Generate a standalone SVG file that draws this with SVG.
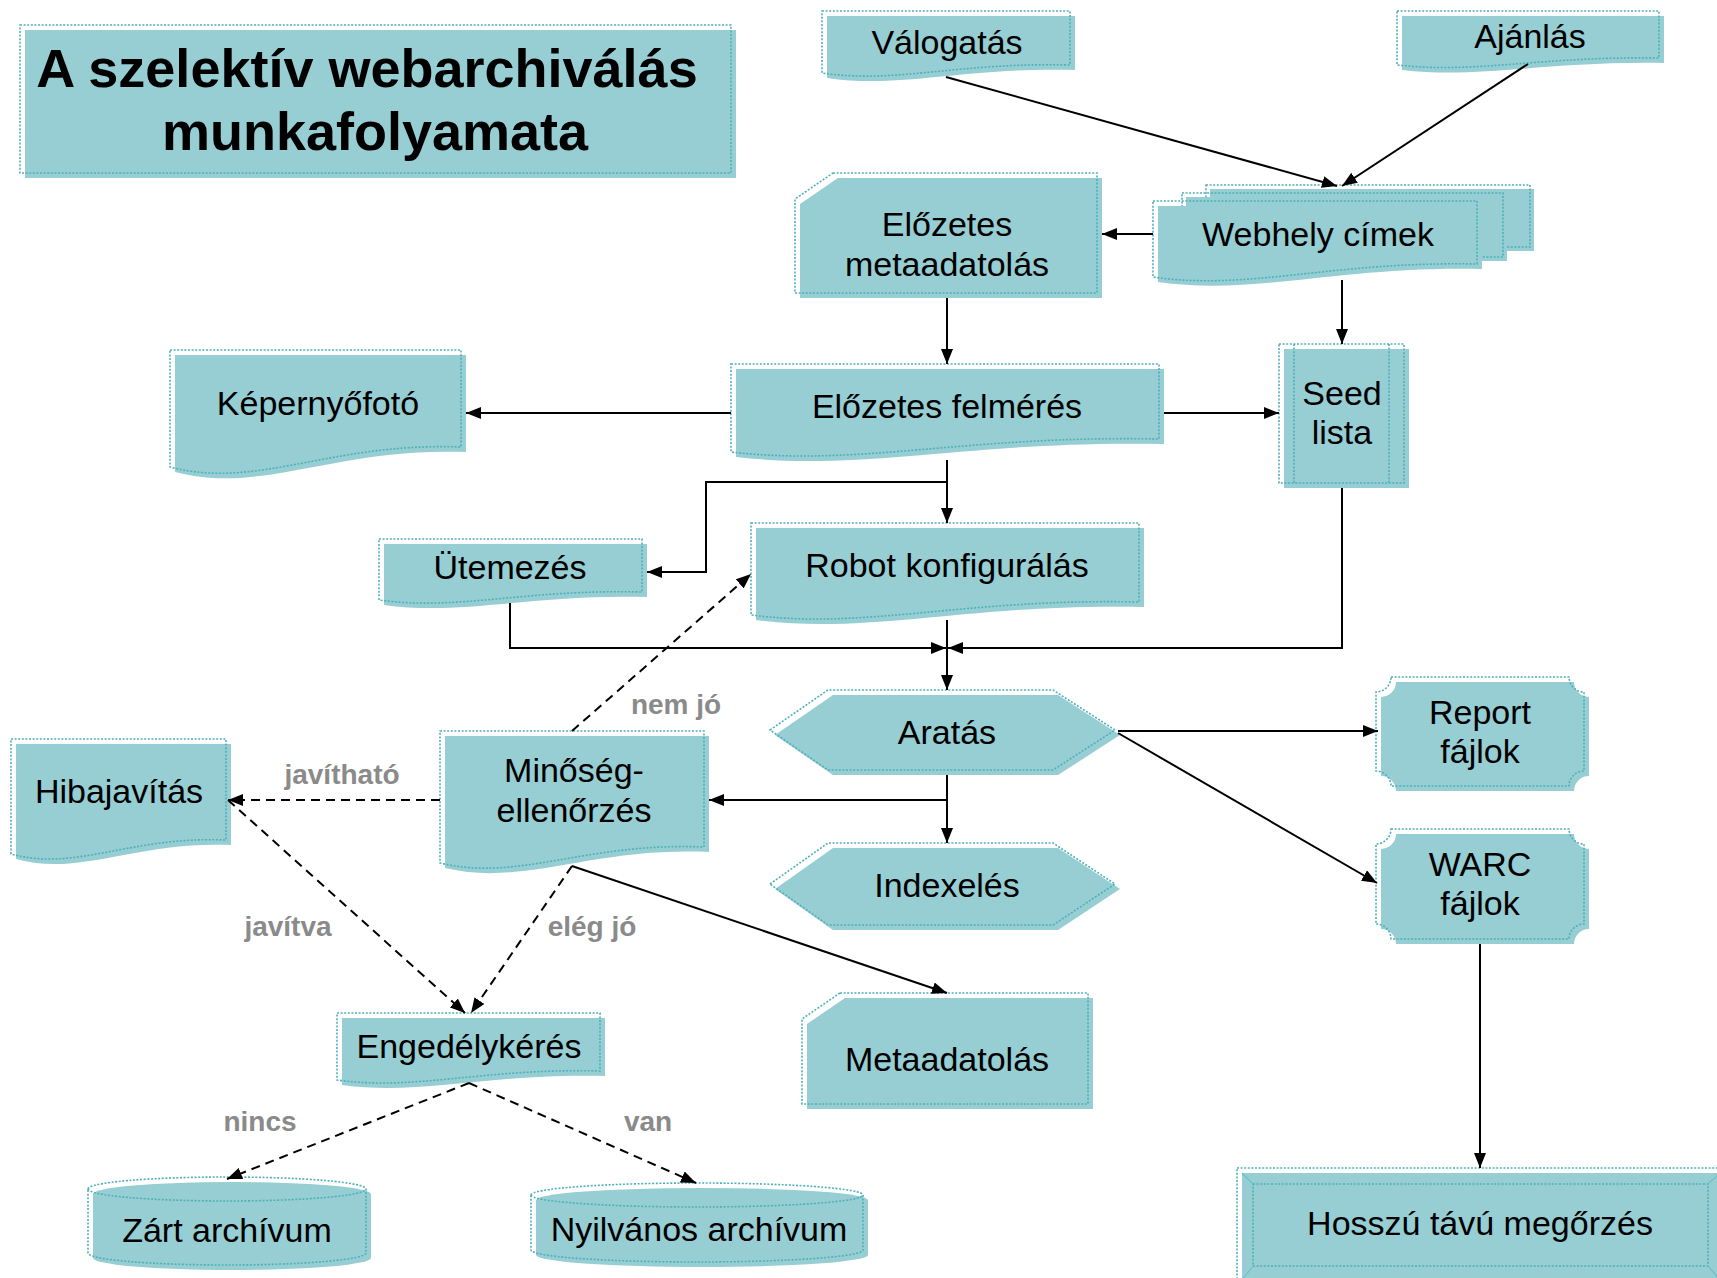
<svg xmlns="http://www.w3.org/2000/svg" xmlns:xlink="http://www.w3.org/1999/xlink" width="1717" height="1278" viewBox="0 0 1717 1278">
<style>
.f{fill:#96CED3;stroke:none}
.o{fill:none;stroke:#4FB0B9;stroke-width:1.6;stroke-dasharray:2 1.6}
.t{font-family:"Liberation Sans",Arial,sans-serif;font-size:34px;fill:#000;text-anchor:middle}
.tt{font-family:"Liberation Sans",Arial,sans-serif;font-size:54px;font-weight:bold;fill:#000;text-anchor:middle}
.lbl{font-family:"Liberation Sans",Arial,sans-serif;font-size:28px;font-weight:bold;fill:#8A8A8A;text-anchor:middle}
.c{fill:none;stroke:#000;stroke-width:2;marker-end:url(#ah)}
.d{stroke-dasharray:9 6}
.bv{stroke:#6FC0C6;stroke-width:1.2}
</style>
<defs>
<marker id="ah" markerUnits="userSpaceOnUse" markerWidth="16" markerHeight="12" refX="15" refY="6" orient="auto">
<path d="M0,0 L15,6 L0,12 Z" fill="#000"/>
</marker>
<path id="p-valogatas" d="M822,11 H1070 V65 C958,62 896,84 822,73 Z"/>
<path id="p-ajanlas" d="M1397,11 H1659 V58 C1541,56 1476,74 1397,65 Z"/>
<path id="p-web3" d="M1206,185 H1530 V247 H1206 Z"/>
<path id="p-web2" d="M1182,193 H1503 V257 H1182 Z"/>
<path id="p-web1" d="M1153,201 H1477 V264 C1331,261 1250,291 1153,277 Z"/>
<path id="p-elometa" d="M833,173 H1097 V293 H795 V199 Z"/>
<path id="p-kepernyo" d="M170,350 H461 V447 C330,442 257,490 170,467 Z"/>
<path id="p-felmeres" d="M731,364 H1159 V439 C966,435 859,467 731,452 Z"/>
<path id="p-seed" d="M1279,344 H1404 V483 H1279 Z"/>
<path id="p-utemezes" d="M379,539 H642 V592 C524,589 458,611 379,600 Z"/>
<path id="p-robot" d="M751,523 H1139 V602 C964,598 867,630 751,615 Z"/>
<path id="p-aratas" d="M770,730 L828,690 L1053,690 L1115,730 L1053,770 L828,770 Z"/>
<path id="p-index" d="M770,884 L828,843 L1053,843 L1115,884 L1053,925 L828,925 Z"/>
<path id="p-report" d="M1391,677 H1569 A15,15 0 0 0 1584,692 V771 A15,15 0 0 0 1569,786 H1391 A15,15 0 0 0 1376,771 V692 A15,15 0 0 0 1391,677 Z"/>
<path id="p-warc" d="M1391,829 H1569 A15,15 0 0 0 1584,844 V924 A15,15 0 0 0 1569,939 H1391 A15,15 0 0 0 1376,924 V844 A15,15 0 0 0 1391,829 Z"/>
<path id="p-hiba" d="M11,739 H226 V840 C129,836 76,872 11,854 Z"/>
<path id="p-minoseg" d="M440,731 H704 V847 C585,842 519,882 440,863 Z"/>
<path id="p-engedely" d="M337,1013 H600 V1071 C482,1068 416,1091 337,1080 Z"/>
<path id="p-meta" d="M840,993 H1088 V1104 H802 V1019 Z"/>
<path id="p-zart" d="M88,1189 A139,12 0 0 1 366,1189 V1253 A139,12 0 0 1 88,1253 Z"/>
<path id="p-nyilv" d="M531,1195 A166,12 0 0 1 863,1195 V1250 A166,12 0 0 1 531,1250 Z"/>
</defs>
<rect width="1717" height="1278" fill="#fff"/>

<g id="title">
<rect class="f" x="25" y="30" width="711" height="148"/>
<rect class="o" x="20" y="25" width="711" height="148"/>
<text class="tt" x="367" y="87">A szelektív webarchiválás</text>
<text class="tt" x="375" y="150">munkafolyamata</text>
</g>

<g id="valogatas">
<use xlink:href="#p-valogatas" class="f" transform="translate(5,5)"/>
<use xlink:href="#p-valogatas" class="o"/>
<text class="t" x="947" y="54">Válogatás</text>
</g>

<g id="ajanlas">
<use xlink:href="#p-ajanlas" class="f" transform="translate(5,5)"/>
<use xlink:href="#p-ajanlas" class="o"/>
<text class="t" x="1530" y="48">Ajánlás</text>
</g>

<g id="webhely">
<use xlink:href="#p-web3" class="f" transform="translate(4,4)"/>
<use xlink:href="#p-web3" class="o"/>
<use xlink:href="#p-web2" class="f" transform="translate(4,4)"/>
<use xlink:href="#p-web2" class="o"/>
<use xlink:href="#p-web1" class="f" transform="translate(5,5)"/>
<use xlink:href="#p-web1" class="o"/>
<text class="t" x="1318" y="246">Webhely címek</text>
</g>

<g id="elozetes-metaadatolas">
<use xlink:href="#p-elometa" class="f" transform="translate(5,5)"/>
<use xlink:href="#p-elometa" class="o"/>
<text class="t" x="947" y="236">Előzetes</text>
<text class="t" x="947" y="276">metaadatolás</text>
</g>

<g id="kepernyofoto">
<use xlink:href="#p-kepernyo" class="f" transform="translate(5,5)"/>
<use xlink:href="#p-kepernyo" class="o"/>
<text class="t" x="318" y="415">Képernyőfotó</text>
</g>

<g id="elozetes-felmeres">
<use xlink:href="#p-felmeres" class="f" transform="translate(5,5)"/>
<use xlink:href="#p-felmeres" class="o"/>
<text class="t" x="947" y="418">Előzetes felmérés</text>
</g>

<g id="seed-lista">
<use xlink:href="#p-seed" class="f" transform="translate(5,5)"/>
<use xlink:href="#p-seed" class="o"/>
<line class="o" x1="1294" y1="344" x2="1294" y2="483"/>
<line class="o" x1="1389" y1="344" x2="1389" y2="483"/>
<text class="t" x="1342" y="405">Seed</text>
<text class="t" x="1342" y="444">lista</text>
</g>

<g id="utemezes">
<use xlink:href="#p-utemezes" class="f" transform="translate(5,5)"/>
<use xlink:href="#p-utemezes" class="o"/>
<text class="t" x="510" y="579">Ütemezés</text>
</g>

<g id="robot-konfiguralas">
<use xlink:href="#p-robot" class="f" transform="translate(5,5)"/>
<use xlink:href="#p-robot" class="o"/>
<text class="t" x="947" y="577">Robot konfigurálás</text>
</g>

<g id="aratas">
<use xlink:href="#p-aratas" class="f" transform="translate(5,5)"/>
<use xlink:href="#p-aratas" class="o"/>
<text class="t" x="947" y="744">Aratás</text>
</g>

<g id="indexeles">
<use xlink:href="#p-index" class="f" transform="translate(5,5)"/>
<use xlink:href="#p-index" class="o"/>
<text class="t" x="947" y="897">Indexelés</text>
</g>

<g id="report-fajlok">
<use xlink:href="#p-report" class="f" transform="translate(5,5)"/>
<use xlink:href="#p-report" class="o"/>
<text class="t" x="1480" y="724">Report</text>
<text class="t" x="1480" y="763">fájlok</text>
</g>

<g id="warc-fajlok">
<use xlink:href="#p-warc" class="f" transform="translate(5,5)"/>
<use xlink:href="#p-warc" class="o"/>
<text class="t" x="1480" y="876">WARC</text>
<text class="t" x="1480" y="915">fájlok</text>
</g>

<g id="hibajavitas">
<use xlink:href="#p-hiba" class="f" transform="translate(5,5)"/>
<use xlink:href="#p-hiba" class="o"/>
<text class="t" x="119" y="803">Hibajavítás</text>
</g>

<g id="minosegellenorzes">
<use xlink:href="#p-minoseg" class="f" transform="translate(5,5)"/>
<use xlink:href="#p-minoseg" class="o"/>
<text class="t" x="574" y="782">Minőség-</text>
<text class="t" x="574" y="822">ellenőrzés</text>
</g>

<g id="engedelykeres">
<use xlink:href="#p-engedely" class="f" transform="translate(5,5)"/>
<use xlink:href="#p-engedely" class="o"/>
<text class="t" x="469" y="1058">Engedélykérés</text>
</g>

<g id="metaadatolas">
<use xlink:href="#p-meta" class="f" transform="translate(5,5)"/>
<use xlink:href="#p-meta" class="o"/>
<text class="t" x="947" y="1071">Metaadatolás</text>
</g>

<g id="zart-archivum">
<use xlink:href="#p-zart" class="f" transform="translate(5,5)"/>
<use xlink:href="#p-zart" class="o"/>
<path class="o" d="M88,1189 A139,12 0 0 0 366,1189"/>
<text class="t" x="227" y="1242">Zárt archívum</text>
</g>

<g id="nyilvanos-archivum">
<use xlink:href="#p-nyilv" class="f" transform="translate(5,5)"/>
<use xlink:href="#p-nyilv" class="o"/>
<path class="o" d="M531,1195 A166,12 0 0 0 863,1195"/>
<text class="t" x="699" y="1241">Nyilvános archívum</text>
</g>

<g id="hosszu-tavu-megorzes">
<rect class="f" x="1242" y="1173" width="480" height="110"/>
<rect class="o" x="1237" y="1168" width="490" height="120"/>
<rect class="o" x="1253" y="1184" width="455" height="82"/>
<path class="bv" d="M1242,1173 L1253,1184 M1720,1173 L1708,1184 M1242,1280 L1253,1266 M1720,1280 L1708,1266"/>
<text class="t" x="1480" y="1235">Hosszú távú megőrzés</text>
</g>

<g id="connectors">
<line class="c" x1="946" y1="77" x2="1337" y2="186"/>
<line class="c" x1="1528" y1="64" x2="1342" y2="186"/>
<line class="c" x1="1153" y1="234" x2="1102" y2="234"/>
<line class="c" x1="1342" y1="280" x2="1342" y2="344"/>
<line class="c" x1="947" y1="298" x2="947" y2="364"/>
<line class="c" x1="731" y1="413" x2="466" y2="413"/>
<line class="c" x1="1164" y1="413" x2="1279" y2="413"/>
<line class="c" x1="947" y1="460" x2="947" y2="523"/>
<polyline class="c" points="947,482 706,482 706,572 647,572"/>
<polyline class="c" points="510,603 510,648 946,648"/>
<polyline class="c" points="1342,488 1342,648 948,648"/>
<line class="c" x1="947" y1="620" x2="947" y2="690"/>
<line class="c" x1="1118" y1="731" x2="1378" y2="731"/>
<line class="c" x1="1118" y1="733" x2="1377" y2="883"/>
<line class="c" x1="947" y1="775" x2="947" y2="843"/>
<line class="c" x1="947" y1="800" x2="709" y2="800"/>
<line class="c" x1="572" y1="866" x2="947" y2="993"/>
<line class="c" x1="1480" y1="944" x2="1480" y2="1168"/>
<line class="c d" x1="572" y1="731" x2="751" y2="574"/>
<line class="c d" x1="440" y1="800" x2="228" y2="800"/>
<line class="c d" x1="228" y1="800" x2="465" y2="1013"/>
<line class="c d" x1="572" y1="866" x2="471" y2="1013"/>
<line class="c d" x1="469" y1="1083" x2="227" y2="1179"/>
<line class="c d" x1="469" y1="1083" x2="696" y2="1183"/>
<text class="lbl" x="676" y="714">nem jó</text>
<text class="lbl" x="342" y="784">javítható</text>
<text class="lbl" x="288" y="936">javítva</text>
<text class="lbl" x="592" y="936">elég jó</text>
<text class="lbl" x="260" y="1131">nincs</text>
<text class="lbl" x="648" y="1131">van</text>
</g>
</svg>
